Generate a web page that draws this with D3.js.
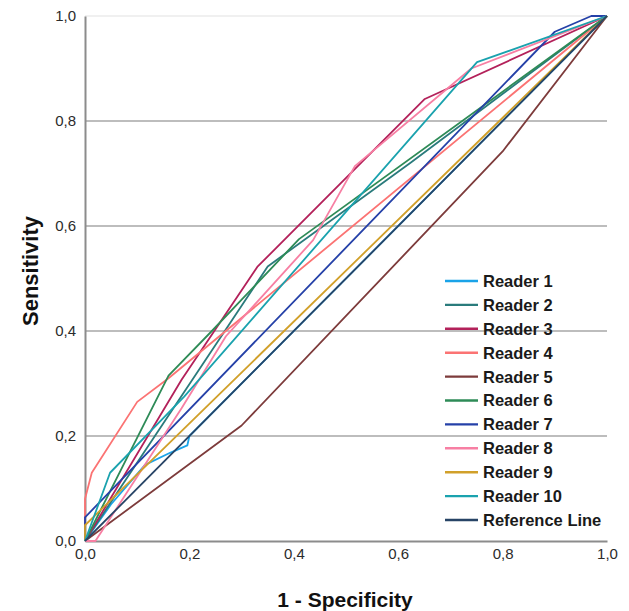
<!DOCTYPE html>
<html>
<head>
<meta charset="utf-8">
<script src="https://cdn.jsdelivr.net/npm/d3@7"></script>
<style>
  body { margin: 0; background: #fff; }
  svg { display: block; }
</style>
</head>
<body>
<svg id="chart" width="629" height="611"></svg>
<script>
// ROC curves, points are [1 - specificity, sensitivity]
var readerNames = ['Reader 1', 'Reader 2', 'Reader 3', 'Reader 4', 'Reader 5',
  'Reader 6', 'Reader 7', 'Reader 8', 'Reader 9', 'Reader 10', 'Reference Line']
var readerColors = ['#1aa3e8', '#2a7b7c', '#b3215a', '#fb7373', '#7d3b3b',
  '#2e8b57', '#2541a8', '#f77fa3', '#d1a02a', '#1aa2ae', '#274466']

var reader1 = [[0, 0], [0.05, 0.07], [0.115, 0.145], [0.163, 0.168], [0.196, 0.182], [0.2, 0.2], [1, 1]]
var reader2 = [[0, 0], [0.35, 0.523], [0.623, 0.72], [1, 1]]
var reader3 = [[0, 0], [0.185, 0.307], [0.33, 0.522], [0.651, 0.842], [1, 1]]
var reader4 = [[0, 0], [0, 0.08], [0.013, 0.13], [0.1, 0.265], [0.16, 0.31], [1, 1]]
var reader5 = [[0, 0], [0.3, 0.22], [0.8, 0.742], [1, 1]]
var reader6 = [[0, 0], [0.16, 0.315], [0.243, 0.4], [0.41, 0.575], [1, 1]]
var reader7 = [[0, 0], [0, 0.045], [0.9, 0.97], [0.97, 1], [1, 1]]
var reader8 = [[0, 0], [0.02, 0], [0.185, 0.253], [0.27, 0.39], [0.437, 0.573], [0.517, 0.714], [0.74, 0.9], [1, 1]]
var reader9 = [[0, 0], [0, 0.03], [1, 1]]
var reader10 = [[0, 0], [0.048, 0.13], [0.19, 0.275], [0.751, 0.912], [1, 1]]
var referenceLine = [[0, 0], [1, 1]]

var xTicks = [0, 0.2, 0.4, 0.6, 0.8, 1.0]
var yTicks = [0, 0.2, 0.4, 0.6, 0.8, 1.0]
var xTitle = '1 - Specificity'
var yTitle = 'Sensitivity'

var curves = [reader1, reader2, reader3, reader4, reader5, reader6,
  reader7, reader8, reader9, reader10, referenceLine]

var svg = d3.select('#chart')
var x = d3.scaleLinear().domain([0, 1]).range([85, 607])
var y = d3.scaleLinear().domain([0, 1]).range([541, 16])
var fmt = function (d) { return d3.format('.1f')(d).replace('.', ',') }

// horizontal grid lines
svg.append('g')
  .selectAll('line')
  .data(yTicks.filter(function (d) { return d > 0 }))
  .enter().append('line')
  .attr('x1', x(0)).attr('x2', x(1))
  .attr('y1', function (d) { return y(d) }).attr('y2', function (d) { return y(d) })
  .attr('stroke', function (d) { return d === 1 ? '#f0f0f0' : '#bdbdbd' })
  .attr('stroke-width', 2)

// axes
var xAxis = svg.append('g')
  .attr('transform', 'translate(0,' + y(0) + ')')
  .call(d3.axisBottom(x).tickValues(xTicks).tickFormat(fmt).tickSize(0).tickPadding(7))
var yAxis = svg.append('g')
  .attr('transform', 'translate(' + x(0) + ',0)')
  .call(d3.axisLeft(y).tickValues(yTicks).tickFormat(fmt).tickSize(0).tickPadding(9))
;[xAxis, yAxis].forEach(function (g) {
  g.select('.domain').attr('stroke', '#8c8c8c').attr('stroke-width', 2)
  g.selectAll('text')
    .attr('fill', '#2b2b2b')
    .style('font-family', 'Liberation Sans, Arial, sans-serif')
    .style('font-size', '15px')
})

// curves
var lineGen = d3.line()
  .x(function (d) { return x(d[0]) })
  .y(function (d) { return y(d[1]) })

svg.append('g')
  .selectAll('path')
  .data(curves)
  .enter().append('path')
  .attr('d', function (d) { return lineGen(d) })
  .attr('fill', 'none')
  .attr('stroke', function (d, i) { return readerColors[i] })
  .attr('stroke-width', 1.8)
  .attr('stroke-linejoin', 'round')

// legend
var legend = svg.append('g')
  .selectAll('g')
  .data(readerNames)
  .enter().append('g')
  .attr('transform', function (d, i) { return 'translate(445,' + (281 + i * 23.9) + ')' })
legend.append('line')
  .attr('x1', 0).attr('x2', 33)
  .attr('stroke', function (d, i) { return readerColors[i] })
  .attr('stroke-width', 2.4)
legend.append('text')
  .attr('x', 38)
  .attr('dy', '0.36em')
  .text(function (d) { return d })
  .style('font-family', 'Liberation Sans, Arial, sans-serif')
  .style('font-weight', 'bold')
  .style('font-size', '16.5px')
  .attr('fill', '#1a1a1a')

// axis titles
svg.append('text')
  .attr('x', 345).attr('y', 607)
  .attr('text-anchor', 'middle')
  .text(xTitle)
  .style('font-family', 'Liberation Sans, Arial, sans-serif')
  .style('font-weight', 'bold')
  .style('font-size', '21px')
  .attr('fill', '#111')
svg.append('text')
  .attr('transform', 'translate(38,271) rotate(-90)')
  .attr('text-anchor', 'middle')
  .text(yTitle)
  .style('font-family', 'Liberation Sans, Arial, sans-serif')
  .style('font-weight', 'bold')
  .style('font-size', '22px')
  .attr('fill', '#111')
</script>
</body>
</html>
